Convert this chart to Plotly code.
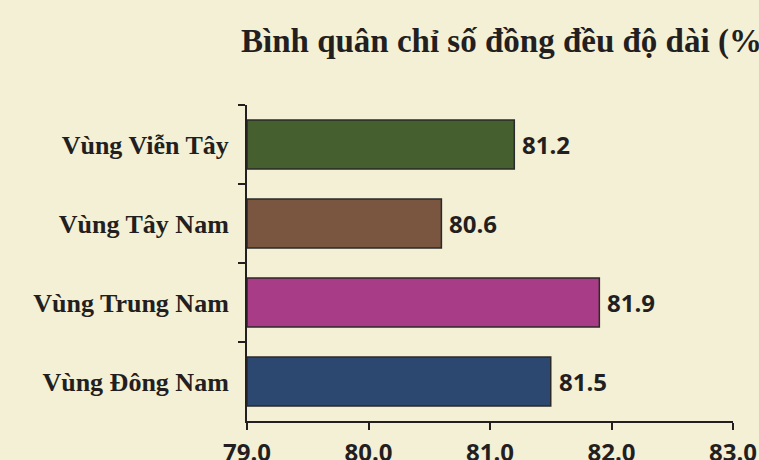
import plotly.graph_objects as go

categories = ["Vùng Viễn Tây", "Vùng Tây Nam", "Vùng Trung Nam", "Vùng Đông Nam"]
values = [81.2, 80.6, 81.9, 81.5]
bar_colors = ["#465F2E", "#7A5641", "#A93C86", "#2D4870"]
x_ticks = [79.0, 80.0, 81.0, 82.0, 83.0]
title_text = "Bình quân chỉ số đồng đều độ dài (%)"
axis_min = 79.0

BG = "#F4F0D5"
INK = "#231F20"
NUM_FONT = dict(family="Open Sans", size=24, color=INK, weight="bold")

fig = go.Figure(
    go.Bar(
        y=categories,
        x=[v - axis_min for v in values],
        base=axis_min,
        orientation="h",
        marker=dict(color=bar_colors, line=dict(color="#2A2A2A", width=1.5)),
        width=0.62,
        cliponaxis=False,
        hoverinfo="skip",
    )
)

for cat, v in zip(categories, values):
    fig.add_annotation(
        x=v, y=cat, xref="x", yref="y",
        text=f"{v:.1f}", showarrow=False,
        xanchor="left", yanchor="middle", xshift=6,
        font=NUM_FONT,
    )

fig.update_layout(
    width=759,
    height=460,
    paper_bgcolor=BG,
    plot_bgcolor=BG,
    margin=dict(l=247, r=26, t=105, b=39, autoexpand=False),
    showlegend=False,
    title=dict(
        text=title_text,
        font=dict(family="Liberation Serif", size=33, color=INK, weight="bold"),
        xref="container",
        x=241 / 759,
        xanchor="left",
        y=1 - 40 / 460,
        yanchor="middle",
        automargin=False,
    ),
)

fig.update_xaxes(
    range=[axis_min, 83.0],
    tickvals=x_ticks,
    ticktext=[f"{t:.1f}" for t in x_ticks],
    showline=True,
    linecolor=INK,
    linewidth=2,
    ticks="outside",
    ticklen=7,
    tickwidth=2,
    tickcolor=INK,
    showgrid=False,
    zeroline=False,
    tickfont=NUM_FONT,
    ticklabelstandoff=2,
    automargin=False,
)

fig.update_yaxes(
    categoryorder="array",
    categoryarray=categories,
    autorange="reversed",
    showline=True,
    linecolor=INK,
    linewidth=2,
    ticks="outside",
    tickson="boundaries",
    ticklen=7,
    tickwidth=2,
    tickcolor=INK,
    showgrid=False,
    zeroline=False,
    tickfont=dict(family="Liberation Serif", size=26, color=INK, weight="bold"),
    ticklabelstandoff=11,
    automargin=False,
)

fig.write_html(
    "out.html",
    config={"displayModeBar": False},
    post_script="document.body.style.margin='0';document.body.style.background='#F4F0D5';",
)
